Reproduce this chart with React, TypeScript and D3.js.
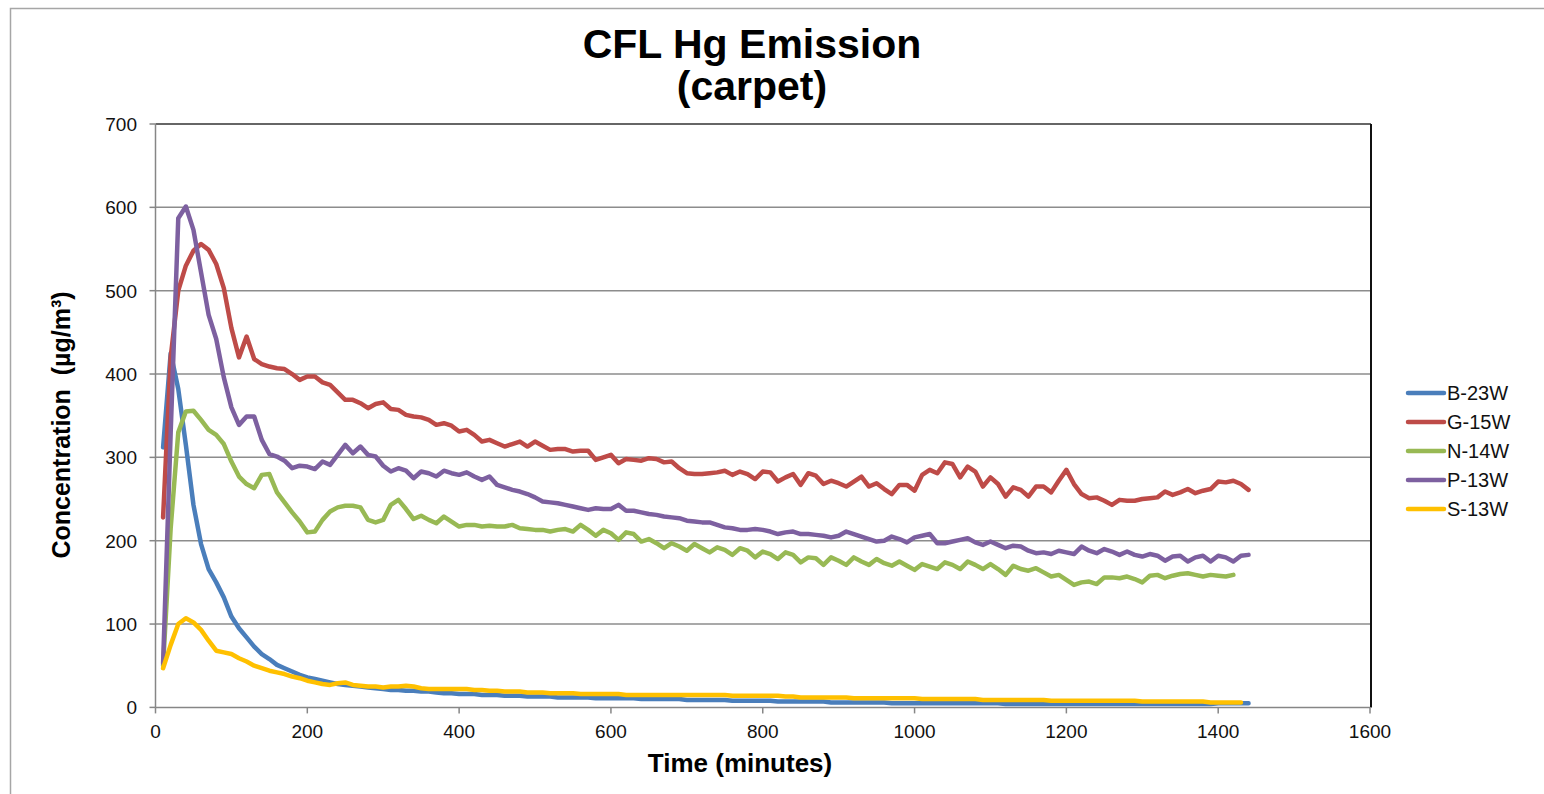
import React from "react";
import * as d3 from "d3";

// sample times (minutes), one reading every 10 min
const minutes = d3.range(10, 1450, 10);

const seriesNames = ["B-23W", "G-15W", "N-14W", "P-13W", "S-13W"];
const seriesColors = ["#4a7ebb", "#be4b48", "#98b954", "#7d60a0", "#ffc000"];

const b23w = [
  312, 425, 382, 315, 243, 196, 166, 150, 132, 109,
  95, 84, 73, 64, 58, 51, 47, 43, 39, 36,
  34, 32, 30, 28, 27, 26, 25, 24, 23, 22,
  21, 21, 20, 20, 19, 19, 18, 17, 17, 16,
  16, 16, 15, 15, 15, 14, 14, 14, 13, 13,
  13, 13, 12, 12, 12, 12, 12, 11, 11, 11,
  11, 11, 11, 10, 10, 10, 10, 10, 10, 9,
  9, 9, 9, 9, 9, 8, 8, 8, 8, 8,
  8, 7, 7, 7, 7, 7, 7, 7, 6, 6,
  6, 6, 6, 6, 6, 6, 5, 5, 5, 5,
  5, 5, 5, 5, 5, 5, 5, 5, 5, 5,
  5, 4, 4, 4, 4, 4, 4, 4, 4, 4,
  4, 4, 4, 4, 4, 4, 4, 4, 4, 4,
  4, 4, 4, 4, 4, 4, 4, 4, 4, 5,
  5, 5, 5, 5,
];

const g15w = [
  228, 420, 500, 530, 548, 556, 549, 532, 503, 455,
  420, 445, 418, 412, 409, 407, 406, 400, 393, 397,
  397, 390, 387, 378, 369, 369, 365, 359, 364, 366,
  358, 357, 351, 349, 348, 345, 339, 341, 338, 331,
  333, 327, 319, 321, 317, 313, 316, 319, 313, 319,
  314, 309, 310, 310, 307, 308, 308, 297, 300, 303,
  293, 298, 297, 296, 299, 298, 294, 295, 287, 281,
  280, 280, 281, 282, 284, 279, 283, 280, 274, 283,
  282, 271, 276, 280, 267, 281, 278, 268, 272, 269,
  265, 271, 277, 265, 269, 262, 256, 267, 267, 260,
  279, 285, 281, 294, 292, 276, 289, 283, 265, 276,
  268, 253, 264, 261, 253, 265, 265, 258, 272, 285,
  268, 256, 251, 252, 248, 243, 249, 248, 248, 250,
  251, 252, 259, 255, 258, 262, 257, 260, 262, 271,
  270, 272, 268, 261,
];

const n14w = [
  50, 215, 330, 355, 356, 345, 333, 327, 316, 295,
  277, 268, 263, 279, 280, 258, 246, 234, 223, 210,
  211, 225, 235, 240, 242, 242, 240, 225, 222, 225,
  243, 249, 238, 226, 230, 225, 221, 229, 223, 217,
  219, 219, 217, 218, 217, 217, 219, 215, 214, 213,
  213, 211, 213, 214, 211, 219, 213, 206, 213, 209,
  201, 210, 208, 199, 202, 197, 191, 197, 193, 188,
  196, 191, 186, 192, 189, 183, 191, 188, 180, 187,
  184, 178, 186, 183, 174, 180, 179, 171, 180, 176,
  171, 180, 175, 171, 178, 173, 170, 175, 170, 165,
  172, 169, 166, 174, 171, 166, 175, 171, 166, 172,
  166, 159, 170, 166, 164, 167, 162, 157, 159, 153,
  147, 150, 151, 148, 156, 156, 155, 157, 154, 150,
  158, 159, 155, 158, 160, 161, 159, 157, 159, 158,
  157, 159, null, null,
];

const p13w = [
  53, 330, 587, 601, 573, 522, 471, 442, 396, 360,
  339, 349, 349, 321, 304, 301, 296, 287, 290, 289,
  286, 295, 291, 303, 315, 305, 313, 303, 301, 290,
  283, 287, 284, 275, 283, 281, 277, 284, 281, 279,
  282, 277, 273, 277, 267, 264, 261, 259, 256, 252,
  247, 246, 245, 243, 241, 239, 237, 239, 238, 238,
  243, 236, 236, 234, 232, 231, 229, 228, 227, 224,
  223, 222, 222, 219, 216, 215, 213, 213, 214, 213,
  211, 208, 210, 211, 208, 208, 207, 206, 204, 206,
  211, 208, 205, 202, 199, 200, 205, 202, 198, 204,
  206, 208, 197, 197, 199, 201, 203, 198, 195, 199,
  195, 191, 194, 193, 188, 185, 186, 184, 188, 186,
  184, 193, 188, 185, 190, 187, 183, 187, 183, 181,
  184, 182, 176, 181, 182, 175, 180, 182, 175, 182,
  180, 175, 182, 183,
];

const s13w = [
  47, 75, 100, 107, 102, 93, 80, 68, 66, 64,
  59, 55, 50, 47, 44, 42, 40, 37, 35, 32,
  30, 28, 27, 29, 30, 27, 26, 25, 25, 24,
  25, 25, 26, 25, 23, 22, 22, 22, 22, 22,
  22, 21, 21, 20, 20, 19, 19, 19, 18, 18,
  18, 17, 17, 17, 17, 16, 16, 16, 16, 16,
  16, 15, 15, 15, 15, 15, 15, 15, 15, 15,
  15, 15, 15, 15, 15, 14, 14, 14, 14, 14,
  14, 14, 13, 13, 12, 12, 12, 12, 12, 12,
  12, 11, 11, 11, 11, 11, 11, 11, 11, 11,
  10, 10, 10, 10, 10, 10, 10, 10, 9, 9,
  9, 9, 9, 9, 9, 9, 9, 8, 8, 8,
  8, 8, 8, 8, 8, 8, 8, 8, 8, 7,
  7, 7, 7, 7, 7, 7, 7, 7, 6, 6,
  6, 6, 6, null,
];

const seriesValues = [b23w, g15w, n14w, p13w, s13w];

const yTicks = [0, 100, 200, 300, 400, 500, 600, 700];
const xTicks = [0, 200, 400, 600, 800, 1000, 1200, 1400, 1600];

const width = 1544;
const height = 794;
const margin = { top: 124, right: 174, bottom: 86.6, left: 155.5 };
const font = "'Liberation Sans', Arial, Helvetica, sans-serif";

const App = () => {
  const xScale = d3
    .scaleLinear()
    .domain([0, 1600])
    .range([margin.left, width - margin.right]);
  const yScale = d3
    .scaleLinear()
    .domain([0, 700])
    .range([height - margin.bottom, margin.top]);

  const line = d3
    .line<number | null>()
    .defined((d) => d != null)
    .x((d, i) => xScale(minutes[i]))
    .y((d) => yScale(d as number));

  const x0 = xScale(0);
  const x1 = xScale(1600);
  const y0 = yScale(0);
  const y1 = yScale(700);

  return (
    <svg
      width={width}
      height={height}
      style={{ position: "absolute", left: 0, top: 0, background: "#fff" }}
      fontFamily={font}
    >
      {/* chart frame */}
      <rect x={10.5} y={8.5} width={1600} height={900} fill="none" stroke="#a6a6a6" strokeWidth={1.5} />

      {/* gridlines */}
      {yTicks.slice(1, -1).map((t) => (
        <line key={t} x1={x0} x2={x1} y1={yScale(t)} y2={yScale(t)} stroke="#8c8c8c" strokeWidth={1.5} />
      ))}

      {/* plot area border (top/right) */}
      <line x1={x0} x2={x1 + 1} y1={y1} y2={y1} stroke="#333" strokeWidth={1.5} />
      <line x1={x1 + 1} x2={x1 + 1} y1={y1} y2={y0} stroke="#111" strokeWidth={2} />

      {/* axes */}
      <line x1={x0} x2={x0} y1={y1} y2={y0} stroke="#868686" strokeWidth={1.5} />
      <line x1={x0} x2={x1} y1={y0} y2={y0} stroke="#868686" strokeWidth={1.5} />
      {yTicks.map((t) => (
        <g key={t}>
          <line x1={x0 - 6} x2={x0} y1={yScale(t)} y2={yScale(t)} stroke="#868686" strokeWidth={1.5} />
          <text x={137} y={yScale(t)} dy="0.36em" textAnchor="end" fontSize={19} fill="#111">
            {t}
          </text>
        </g>
      ))}
      {xTicks.map((t) => (
        <g key={t}>
          <line x1={xScale(t)} x2={xScale(t)} y1={y0} y2={y0 + 6} stroke="#868686" strokeWidth={1.5} />
          <text x={xScale(t)} y={738} textAnchor="middle" fontSize={19} fill="#111">
            {t}
          </text>
        </g>
      ))}

      {/* series */}
      {seriesValues.map((vals, i) => (
        <path
          key={seriesNames[i]}
          d={line(vals) || ""}
          fill="none"
          stroke={seriesColors[i]}
          strokeWidth={4.5}
          strokeLinejoin="round"
          strokeLinecap="round"
        />
      ))}

      {/* titles */}
      <text x={752} y={58} textAnchor="middle" fontSize={41} fontWeight="bold">
        CFL Hg Emission
      </text>
      <text x={752} y={100} textAnchor="middle" fontSize={41} fontWeight="bold">
        (carpet)
      </text>
      <text x={740} y={772} textAnchor="middle" fontSize={26} fontWeight="bold">
        Time (minutes)
      </text>
      <text
        transform="translate(70,425) rotate(-90)"
        textAnchor="middle"
        fontSize={25}
        fontWeight="bold"
        style={{ whiteSpace: "pre" }}
      >
        {"Concentration  (µg/m³)"}
      </text>

      {/* legend */}
      {seriesNames.map((name, i) => {
        const ly = 393 + i * 29;
        return (
          <g key={name}>
            <line x1={1408} x2={1444} y1={ly} y2={ly} stroke={seriesColors[i]} strokeWidth={4.5} strokeLinecap="round" />
            <text x={1447} y={ly} dy="0.36em" fontSize={20} fill="#111">
              {name}
            </text>
          </g>
        );
      })}
    </svg>
  );
};

export default App;
